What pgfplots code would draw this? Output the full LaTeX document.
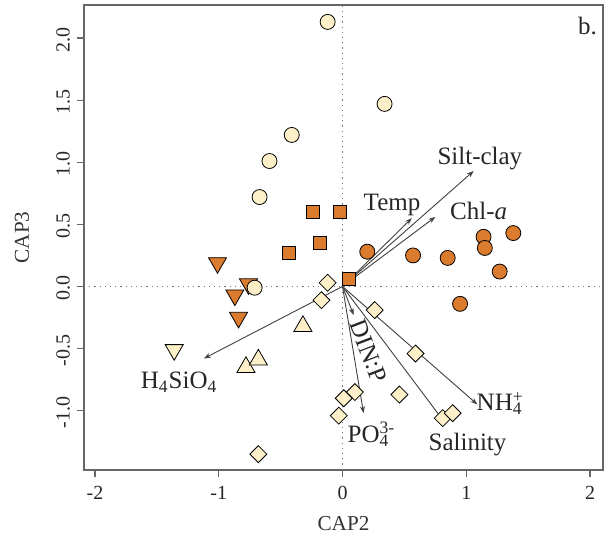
\documentclass[border=0pt]{standalone}
\usepackage{fontspec}
\setmainfont{Liberation Serif}
\usepackage{pgfplots}
\pgfplotsset{compat=1.18}
\usetikzlibrary{arrows.meta}

\definecolor{orng}{HTML}{DB7B2E}
\definecolor{cream}{HTML}{FDF0C8}
\definecolor{edge}{HTML}{505050}
\tikzset{
  lbl/.style={font=\fontsize{12.5}{14}\selectfont, text=black!85, inner sep=1pt},
  vec/.style={no marks, sharp plot, black!75, line width=0.45pt, -{Stealth[length=3.5pt,width=2.5pt]}},
}

\begin{document}
\begin{tikzpicture}
\begin{axis}[
  scale only axis,
  width=259.5pt, height=232pt,
  xmin=-2.089, xmax=2.105,
  ymin=-1.476, ymax=2.266,
  clip=false,
  axis line style={black!60, line width=0.75pt},
  xtick={-2,-1,0,1,2},
  xticklabels={-2,-1,0,1,2},
  ytick={-1,-0.5,0,0.5,1,1.5,2},
  yticklabels={-1.0,-0.5,0.0,0.5,1.0,1.5,2.0},
  xtick pos=bottom, ytick pos=left,
  tick align=outside,
  major tick length=3.5pt,
  tick style={black!60, line width=0.6pt},
  tick label style={font=\fontsize{10}{12}\selectfont, text=black!85},
  xticklabel style={anchor=north, yshift=-1pt},
  yticklabel style={rotate=90, anchor=south, xshift=-1pt},
  xlabel={CAP2}, ylabel={CAP3},
  label style={font=\fontsize{10.6}{12}\selectfont, text=black!80},
  xlabel style={at={(axis description cs:0.5,-0.1164)}, anchor=center},
  ylabel style={at={(axis description cs:-0.1195,0.5)}, anchor=center, rotate=0},
  every axis plot/.append style={only marks, mark options={draw=edge, line width=0.5pt}},
]
% reference lines
\addplot[no marks, sharp plot, dotted, black!55, line width=0.6pt] coordinates {(0,-1.476) (0,2.266)};
\addplot[no marks, sharp plot, dotted, black!55, line width=0.6pt] coordinates {(-2.089,0) (2.105,0)};

% light circles
\addplot[mark=*, mark size=3.75pt, mark options={fill=cream}] coordinates {
  (-0.12,2.13) (0.34,1.47) (-0.41,1.22) (-0.59,1.01) (-0.67,0.72)
};
% orange down triangles
\addplot[mark=triangle*, mark size=5.2pt, mark options={fill=orng, rotate=180}] coordinates {
  (-1.01,0.19) (-0.76,0.02) (-0.87,-0.07) (-0.84,-0.25)
};
\addplot[mark=*, mark size=3.75pt, mark options={fill=cream}] coordinates {
  (-0.71,-0.01)
};
% orange squares
\addplot[mark=square*, mark size=3.25pt, mark options={fill=orng}] coordinates {
  (-0.24,0.60) (-0.02,0.60) (-0.18,0.35) (-0.43,0.27) (0.05,0.06)
};
% orange circles
\addplot[mark=*, mark size=3.75pt, mark options={fill=orng}] coordinates {
  (0.20,0.28) (0.57,0.25) (0.85,0.23) (1.14,0.40) (1.15,0.31) (1.38,0.43) (1.27,0.12) (0.95,-0.14)
};
% light down triangle
\addplot[mark=triangle*, mark size=5.2pt, mark options={fill=cream, rotate=180}] coordinates {
  (-1.36,-0.51)
};
% light up triangles
\addplot[mark=triangle*, mark size=5.2pt, mark options={fill=cream}] coordinates {
  (-0.78,-0.65) (-0.68,-0.59) (-0.32,-0.32)
};
% light diamonds
\addplot[mark=square*, mark size=3pt, mark options={fill=cream, rotate=45}] coordinates {
  (-0.12,0.03) (-0.17,-0.11) (0.26,-0.19) (0.59,-0.54) (0.46,-0.87)
  (0.10,-0.85) (0.01,-0.90) (-0.03,-1.04) (0.81,-1.06) (0.89,-1.02) (-0.68,-1.35)
};

% biplot arrows
\addplot[vec] coordinates {(0,0) (1.06,0.93)};
\addplot[vec] coordinates {(0,0) (0.56,0.55)};
\addplot[vec] coordinates {(0,0) (0.75,0.56)};
\addplot[vec] coordinates {(0,0) (-1.12,-0.58)};
\addplot[vec] coordinates {(0,0) (0.17,-1.02)};
\addplot[vec] coordinates {(0,0) (0.09,-0.23)};
\addplot[vec] coordinates {(0,0) (0.83,-1.10)};
\addplot[vec] coordinates {(0,0) (1.09,-0.95)};

% labels
\node[lbl] at (axis cs:1.11,1.03) {Silt-clay};
\node[lbl] at (axis cs:0.40,0.66) {Temp};
\node[lbl] at (axis cs:1.10,0.61) {Chl-\textit{a}};
\node[lbl] at (axis cs:-1.32,-0.77) {H\textsubscript{4}SiO\textsubscript{4}};
\node[lbl] at (axis cs:0.21,-1.19) {PO\makebox[0pt][l]{\textsuperscript{3-}}\textsubscript{4}\hspace{0.45em}};
\node[lbl] at (axis cs:1.01,-1.27) {Salinity};
\node[lbl] at (axis cs:1.27,-0.94) {NH\makebox[0pt][l]{\textsuperscript{+}}\textsubscript{4}};
\node[lbl, rotate=-69] at (axis cs:0.21,-0.52) {DIN:P};
\node[lbl] at (axis cs:1.98,2.10) {b.};

% page extent
\path (rel axis cs:-0.1618,-0.1487) rectangle (rel axis cs:1.0135,1.0108);
\end{axis}
\end{tikzpicture}
\end{document}
